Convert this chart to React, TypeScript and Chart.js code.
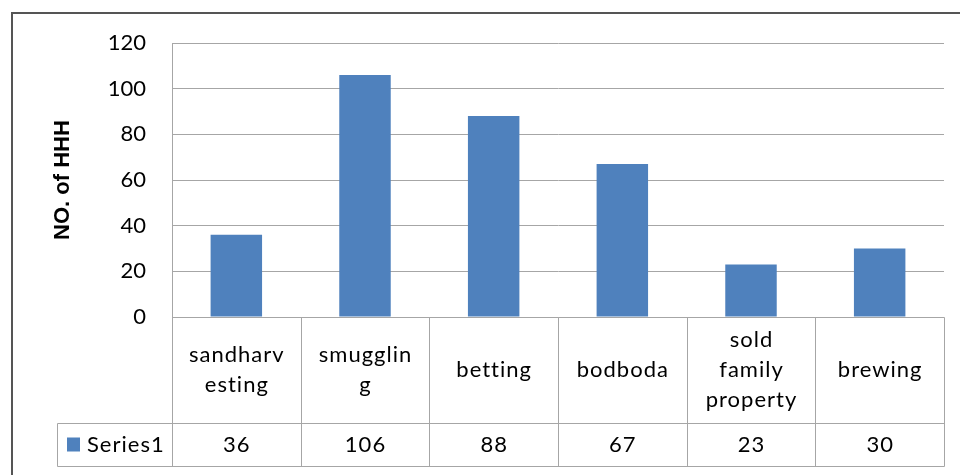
import React, { useEffect, useRef } from "react";
import { Chart, registerables } from "chart.js";

Chart.register(...registerables);

const categories: string[][] = [
  ["sandharv", "esting"],
  ["smugglin", "g"],
  ["betting"],
  ["bodboda"],
  ["sold", "family", "property"],
  ["brewing"],
];
const seriesName = "Series1";
const seriesValues = [36, 106, 88, 67, 23, 30];
const yTicks = { min: 0, max: 120, step: 20 };
const yTitle = "NO. of HHH";

const BAR = "#4f81bd";
const GRID = "#a6a6a6";
const FONT = "Lato";

const tablePlugin = {
  id: "dataTable",
  afterDraw(chart: any) {
    const ctx = chart.ctx;
    const x = chart.scales.x;
    const area = chart.chartArea;
    const n = seriesValues.length;
    const half = (x.getPixelForValue(1) - x.getPixelForValue(0)) / 2;
    const bounds: number[] = [];
    for (let i = 0; i < n; i++) bounds.push(x.getPixelForValue(i) - half);
    bounds.push(x.getPixelForValue(n - 1) + half);
    const top = area.bottom;
    const row1 = top + 106;
    const row2 = row1 + 43;
    const legendLeft = 57;
    ctx.save();
    ctx.strokeStyle = GRID;
    ctx.lineWidth = 1;
    const line = (x1: number, y1: number, x2: number, y2: number) => {
      ctx.beginPath();
      ctx.moveTo(Math.round(x1) + 0.5, Math.round(y1) + 0.5);
      ctx.lineTo(Math.round(x2) + 0.5, Math.round(y2) + 0.5);
      ctx.stroke();
    };
    line(bounds[0], top, bounds[n], top);
    line(legendLeft, row1, bounds[n], row1);
    line(legendLeft, row2, bounds[n], row2);
    line(legendLeft, row1, legendLeft, row2);
    for (let i = 0; i <= n; i++) line(bounds[i], top, bounds[i], row2);

    ctx.fillStyle = "#000";
    ctx.font = `22px ${FONT}`;
    (ctx as any).letterSpacing = "1px";
    ctx.textAlign = "center";
    ctx.textBaseline = "middle";
    const lh = 30;
    const midCat = (top + row1) / 2;
    const midVal = (row1 + row2) / 2;
    for (let i = 0; i < n; i++) {
      const cx = x.getPixelForValue(i) + 0.5;
      const lines = categories[i];
      const start = midCat - ((lines.length - 1) * lh) / 2;
      lines.forEach((t, k) => ctx.fillText(t, cx, start + k * lh));
      ctx.fillText(String(seriesValues[i]), cx, midVal);
    }
    // legend key
    ctx.fillStyle = BAR;
    ctx.fillRect(67, midVal - 7, 13, 14);
    ctx.fillStyle = "#000";
    ctx.textAlign = "left";
    ctx.fillText(seriesName, 87, midVal);
    (ctx as any).letterSpacing = "0px";

    // outer chart border
    ctx.strokeStyle = "#555";
    ctx.lineWidth = 2;
    ctx.strokeRect(12, 13, 980, 500);
    ctx.restore();
  },
};

export default function App() {
  const ref = useRef<HTMLCanvasElement>(null);
  useEffect(() => {
    document.body.style.margin = "0";
    const chart = new Chart(ref.current!, {
      type: "bar",
      data: {
        labels: categories.map((c) => c.join(" ")),
        datasets: [
          {
            label: seriesName,
            data: seriesValues,
            backgroundColor: BAR,
            barPercentage: 0.4,
            categoryPercentage: 1,
          },
        ],
      },
      options: {
        responsive: false,
        animation: false,
        layout: { padding: { left: 0, top: 43, right: 16, bottom: 158 } },
        plugins: { legend: { display: false }, tooltip: { enabled: false } },
        scales: {
          x: { display: false },
          y: {
            min: yTicks.min,
            max: yTicks.max,
            ticks: {
              stepSize: yTicks.step,
              padding: 26,
              color: "#000",
              font: { family: FONT, size: 22 },
            },
            grid: { color: GRID, drawTicks: false },
            border: { display: true, color: GRID },
            title: {
              display: true,
              text: yTitle,
              color: "#000",
              font: { family: "Liberation Sans", size: 22, weight: "bold" },
              padding: { top: 50, bottom: 0 },
            },
            afterFit(scale: any) {
              scale.width = 172;
            },
          },
        },
      },
      plugins: [tablePlugin],
    });
    return () => chart.destroy();
  }, []);
  return <canvas ref={ref} width={960} height={475} style={{ display: "block" }} />;
}
